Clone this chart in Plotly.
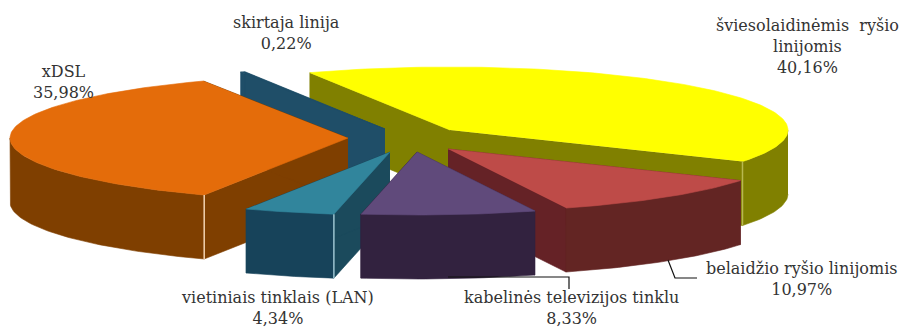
import math
import plotly.graph_objects as go

# Broadband connection shares, clockwise from the back of the pie
categories = [
    "šviesolaidinėmis  ryšio<br>linijomis",
    "belaidžio ryšio linijomis",
    "kabelinės televizijos tinklu",
    "vietiniais tinklais (LAN)",
    "xDSL",
    "skirtaja linija",
]
shares = [40.16, 10.97, 8.33, 4.34, 35.98, 0.22]

# Per-slice styling
top_colors = ["#FFFF00", "#BE4B48", "#604A7B", "#31859C", "#E46C0A", "#1F4E68"]
side_colors = ["#808000", "#632523", "#32223F", "#17435A", "#7F3F00", "#1F4E68"]
wall_colors = ["#808000", "#652226", "#32223F", "#1B4A5C", "#7F3F00", "#1F4E68"]

# Explosion of each slice away from the pie centre, in pixels
pull_x = [45, 43, 12, -15, -57, -20]
pull_y = [-8, 11, 14, 14, 0, -9]

# Light seams where a radial wall meets the outer wall: slice, boundary, colour
seams = [(0, 1, "#B8B850"), (3, 0, "#9CC4D0"), (4, 0, "#F3D3B0")]

# Pie projection, in page pixels
CX, CY = 405, 138
RX, RY = 338, 63
DEPTH = 64
START_ANGLE = 114.5

# Slices are painted back to front
paint_order = [0, 5, 4, 1, 3, 2]

label_pos = {
    0: (807, 46), 1: (801, 279), 2: (571, 308),
    3: (277, 308), 4: (63, 82), 5: (286, 33),
}
label_size = 16


def rim(ax, ay, t):
    r = math.radians(t)
    return ax + RX * math.cos(r), ay - RY * math.sin(r)


def poly(fig, pts, color, name):
    fig.add_trace(go.Scatter(
        x=[p[0] for p in pts], y=[p[1] for p in pts],
        mode="lines", fill="toself", fillcolor=color,
        line=dict(color=color, width=0.6), name=name,
        hoverinfo="skip", showlegend=False,
    ))


def lower(p):
    return p[0], p[1] + DEPTH


# Slice boundaries from the shares
bounds = []
angle = START_ANGLE
for v in shares:
    sweep = v / sum(shares) * 360
    bounds.append((angle, angle - sweep))
    angle -= sweep

fig = go.Figure()

for i in paint_order:
    a0, a1 = bounds[i]
    ax = CX + pull_x[i]
    ay = CY + pull_y[i]
    apex = (ax, ay)
    n = max(2, int(abs(a0 - a1)) + 1)
    arc = [a0 + (a1 - a0) * k / n for k in range(n + 1)]
    arc_pts = [rim(ax, ay, t) for t in arc]

    # Radial walls, then the visible part of the outer wall, then the top
    for t in (a0, a1):
        e = rim(ax, ay, t)
        poly(fig, [apex, e, lower(e), lower(apex)], wall_colors[i], categories[i])
    front = [p for t, p in zip(arc, arc_pts) if math.sin(math.radians(t)) <= 0.001]
    if len(front) > 1:
        poly(fig, front + [lower(p) for p in reversed(front)], side_colors[i], categories[i])
    poly(fig, [apex] + arc_pts, top_colors[i], categories[i])

    for s, b, color in seams:
        if s == i:
            e = rim(ax, ay, bounds[i][b])
            fig.add_trace(go.Scatter(
                x=[e[0], e[0]], y=[e[1], e[1] + DEPTH], mode="lines",
                line=dict(color=color, width=1.5),
                hoverinfo="skip", showlegend=False,
            ))

# Leader lines for the two lower labels
leaders = [
    ([448, 569, 569], [277, 277, 289]),
    ([668, 672, 675, 697], [260, 270, 278, 278]),
]
for lx, ly in leaders:
    fig.add_trace(go.Scatter(
        x=lx, y=ly, mode="lines", line=dict(color="#111111", width=1.2),
        hoverinfo="skip", showlegend=False,
    ))

for i, name in enumerate(categories):
    x, y = label_pos[i]
    fig.add_annotation(
        x=x, y=y, xref="x", yref="y", showarrow=False, align="center",
        text=f"{name}<br>{shares[i]:.2f}%".replace(".", ","),
        font=dict(family="DejaVu Serif", size=label_size, color="#333333"),
    )

fig.update_layout(
    width=903, height=329, margin=dict(l=0, r=0, t=0, b=0),
    paper_bgcolor="white", plot_bgcolor="white", showlegend=False,
    xaxis=dict(range=[0, 903], visible=False, fixedrange=True),
    yaxis=dict(range=[329, 0], visible=False, fixedrange=True),
)
fig.write_html("out.html", config=dict(displayModeBar=False))
